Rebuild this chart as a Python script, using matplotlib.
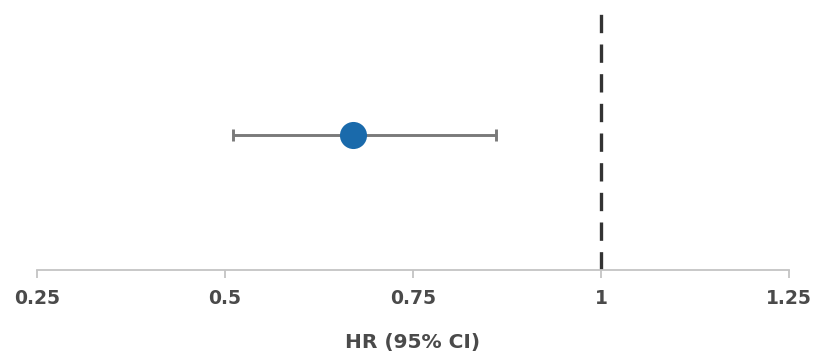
import matplotlib
matplotlib.use("Agg")
import matplotlib.pyplot as plt

# Hazard ratio estimate with 95% confidence interval
hr = 0.67
ci_low = 0.51
ci_high = 0.86
reference_value = 1.0
xticks = [0.25, 0.5, 0.75, 1, 1.25]
xtick_labels = ["0.25", "0.5", "0.75", "1", "1.25"]

fig = plt.figure(figsize=(8.13, 3.6), dpi=100)
ax = fig.add_axes([37 / 813, 90 / 360, 752 / 813, 270 / 360])

ax.set_xlim(0.25, 1.25)
ax.set_ylim(0, 1)

# Line of no effect
ax.plot([reference_value, reference_value], [0, 0.97], color="#333333",
        linewidth=2.4, linestyle=(0, (5.5, 3.4)), zorder=1)

# Confidence interval and point estimate
ax.errorbar([hr], [0.5], xerr=[[hr - ci_low], [ci_high - hr]], fmt="none",
            ecolor="#7a7a7a", elinewidth=2.1, capsize=4, capthick=2.1, zorder=2)
ax.plot([hr], [0.5], "o", color="#1a6aab", markersize=19.5,
        markeredgewidth=0, zorder=3)

for side in ["top", "right", "left"]:
    ax.spines[side].set_visible(False)
ax.spines["bottom"].set_color("#c4c4c4")
ax.spines["bottom"].set_linewidth(1.3)
ax.set_yticks([])
ax.set_xticks(xticks)
ax.set_xticklabels(xtick_labels)
ax.tick_params(axis="x", direction="out", length=6, width=1.3, color="#c4c4c4",
               pad=8, labelsize=13.5, labelcolor="#4a4a4a")
for lab in ax.get_xticklabels():
    lab.set_fontfamily("DejaVu Sans")
    lab.set_fontweight("bold")

ax.set_xlabel("HR (95% CI)", fontsize=14.5, fontfamily="DejaVu Sans",
              fontweight="bold", color="#4a4a4a", labelpad=18)

fig.savefig("out.png", dpi=100, facecolor="white")
